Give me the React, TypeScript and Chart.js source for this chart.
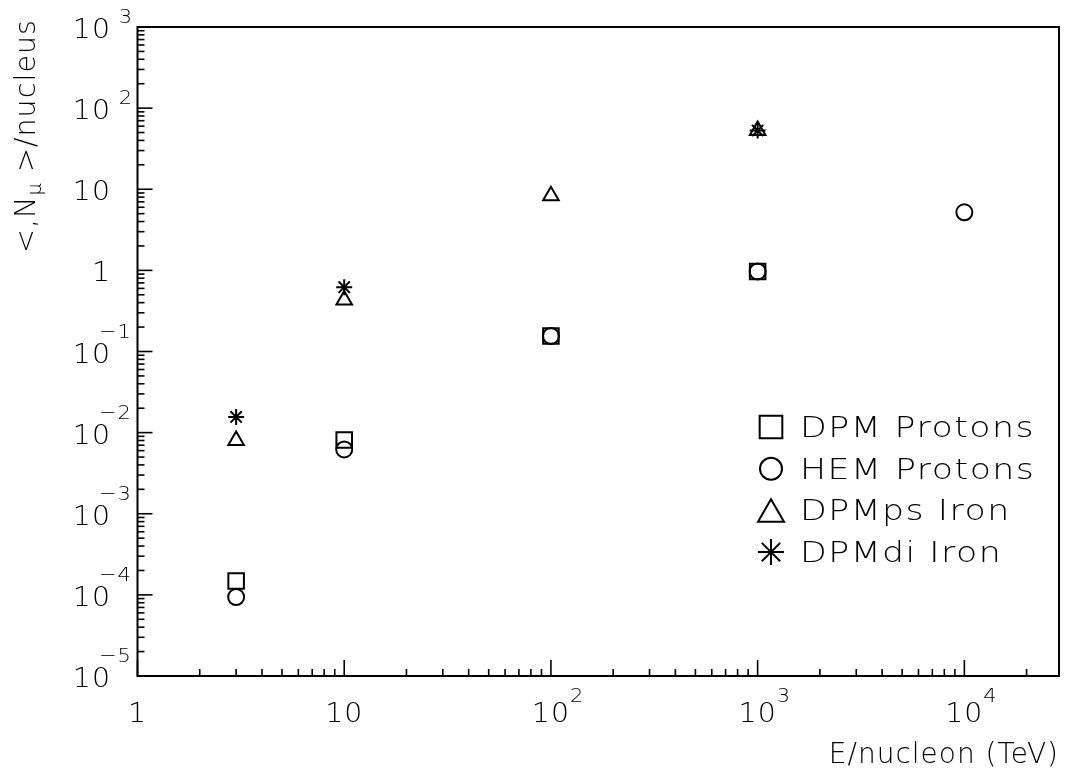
import React, { useEffect, useRef } from "react";
import { Chart, registerables } from "chart.js";
import { drawPoint } from "chart.js/helpers";

Chart.register(...registerables);

// ---- data ----
const energies = [3, 10, 100, 1000, 10000];
const dpmProtons = [1.48e-4, 8.1e-3, 0.155, 0.97, null];
const hemProtons = [9.4e-5, 6.2e-3, 0.155, 0.97, 5.2];
const dpmpsIron = [8.0e-3, 0.43, 8.3, 53, null];
const dpmdiIron = [1.56e-2, 0.62, null, 53, null];

const seriesNames = ["DPM Protons", "HEM Protons", "DPMps Iron", "DPMdi Iron"];
const seriesValues = [dpmProtons, hemProtons, dpmpsIron, dpmdiIron];
const seriesMarkers = ["rect", "circle", "triangle", "star"];

const xRange = [1, 2.87e4];
const yRange = [1e-5, 1e3];

const xTickValues = [1, 10, 100, 1000, 10000];
const xTickBases = ["1", "10", "10", "10", "10"];
const xTickExps = ["", "", "2", "3", "4"];

const yTickValues = [1e-5, 1e-4, 1e-3, 1e-2, 1e-1, 1, 10, 100, 1000];
const yTickBases = ["10", "10", "10", "10", "10", "1", "10", "10", "10"];
const yTickExps = ["\u22125", "\u22124", "\u22123", "\u22122", "\u22121", "", "", "2", "3"];

const xTitle = "E/nucleon (TeV)";
const yTitleParts = ["<,N", "\u03bc", " >/nucleus"];

// ---- styling ----
const FONT = "'DejaVu Sans', 'Liberation Sans', sans-serif";
const WEIGHT = "200";
const plotRadii = [11, 8, 9, 8];
const legendRadii = [16, 11, 15, 13];

function txt(
  ctx: CanvasRenderingContext2D,
  s: string,
  x: number,
  y: number,
  size: number,
  align: CanvasTextAlign,
  sx = 1,
  spacing = 0
) {
  ctx.save();
  ctx.font = `${WEIGHT} ${size}px ${FONT}`;
  (ctx as any).letterSpacing = `${spacing}px`;
  ctx.textAlign = align;
  ctx.textBaseline = "alphabetic";
  ctx.translate(x, y);
  ctx.scale(sx, 1);
  ctx.fillText(s, 0, 0);
  ctx.restore();
}

const pawPlugin = {
  id: "pawAxes",
  afterDraw(chart: any) {
    const ctx: CanvasRenderingContext2D = chart.ctx;
    const { left, right, top, bottom } = chart.chartArea;
    const xs = chart.scales.x;
    const ys = chart.scales.y;
    ctx.save();
    ctx.strokeStyle = "#000";
    ctx.fillStyle = "#000";

    // frame
    ctx.lineWidth = 2;
    ctx.strokeRect(left, top, right - left, bottom - top);

    // x ticks (inward, bottom axis)
    ctx.lineWidth = 1.6;
    for (let e = 0; e <= 4; e++) {
      for (let m = 1; m <= 9; m++) {
        const v = m * Math.pow(10, e);
        if (v < xRange[0] || v > xRange[1]) continue;
        const px = xs.getPixelForValue(v);
        const len = m === 1 ? 16 : 7;
        ctx.beginPath();
        ctx.moveTo(px, bottom);
        ctx.lineTo(px, bottom - len);
        ctx.stroke();
      }
    }
    // y ticks (inward, left axis)
    for (let e = -5; e <= 3; e++) {
      for (let m = 1; m <= 9; m++) {
        const v = m * Math.pow(10, e);
        if (v < yRange[0] * 0.999 || v > yRange[1] * 1.001) continue;
        const py = ys.getPixelForValue(v);
        const len = m === 1 ? 15 : 7;
        ctx.beginPath();
        ctx.moveTo(left, py);
        ctx.lineTo(left + len, py);
        ctx.stroke();
      }
    }

    // x tick labels
    xTickValues.forEach((v, i) => {
      const px = xs.getPixelForValue(v);
      txt(ctx, xTickBases[i], px, bottom + 46, 27, "center", 1.05, 1);
      if (xTickExps[i]) txt(ctx, xTickExps[i], px + 19, bottom + 26, 20, "left", 1.05);
    });
    // y tick labels
    yTickValues.forEach((v, i) => {
      const py = ys.getPixelForValue(v);
      const exp = yTickExps[i];
      txt(ctx, yTickBases[i], 111, py + 11, 27, "right", 1.05, 1);
      if (exp) {
        const neg = exp.startsWith("\u2212");
        txt(ctx, exp, 132, py + (neg ? -14 : -4), 20, "right", 1.05, neg ? 1 : 0);
      }
    });

    // x title
    txt(ctx, xTitle, right, 763, 28, "right", 1.0, 1);

    // y title (rotated)
    ctx.save();
    ctx.translate(35, 253);
    ctx.rotate(-Math.PI / 2);
    ctx.textBaseline = "alphabetic";
    ctx.textAlign = "left";
    (ctx as any).letterSpacing = "1px";
    ctx.scale(1.02, 1);
    ctx.font = `${WEIGHT} 28px ${FONT}`;
    let cx = 0;
    ctx.fillText(yTitleParts[0], cx, 0);
    cx += ctx.measureText(yTitleParts[0]).width;
    ctx.font = `${WEIGHT} 19px ${FONT}`;
    ctx.fillText(yTitleParts[1], cx, 6);
    cx += ctx.measureText(yTitleParts[1]).width;
    ctx.font = `${WEIGHT} 28px ${FONT}`;
    ctx.fillText(yTitleParts[2], cx, 0);
    ctx.restore();

    // legend
    seriesNames.forEach((name, i) => {
      const cy = 427 + i * 41.7;
      ctx.save();
      ctx.strokeStyle = "#000";
      ctx.fillStyle = "rgba(0,0,0,0)";
      ctx.lineWidth = 2;
      const r = legendRadii[i];
      const off = seriesMarkers[i] === "triangle" ? r / 4 : 0;
      drawPoint(ctx, { pointStyle: seriesMarkers[i], radius: r, rotation: 0, borderWidth: 2 } as any, 771, cy + off);
      ctx.restore();
      ctx.fillStyle = "#000";
      txt(ctx, name, 800, cy + 10, 28, "left", 1.24, 1.2);
    });

    ctx.restore();
  },
};

export default function App() {
  const ref = useRef<HTMLCanvasElement | null>(null);
  useEffect(() => {
    document.body.style.margin = "0";
    const canvas = ref.current!;
    const datasets = seriesNames.map((name, i) => ({
      label: name,
      data: energies
        .map((x, j) => ({ x, y: seriesValues[i][j] }))
        .filter((p) => p.y !== null) as { x: number; y: number }[],
      pointStyle: seriesMarkers[i] as any,
      pointRadius: plotRadii[i],
      pointHoverRadius: plotRadii[i],
      pointBorderWidth: 2,
      borderColor: "#000",
      backgroundColor: "rgba(0,0,0,0)",
      showLine: false,
    }));
    const chart = new Chart(canvas, {
      type: "scatter",
      data: { datasets },
      options: {
        animation: false,
        responsive: false,
        events: [],
        layout: { padding: { left: 137.5, right: 1072 - 1063, top: 27, bottom: 780 - 676 } },
        scales: {
          x: { type: "logarithmic", min: xRange[0], max: xRange[1], display: false },
          y: { type: "logarithmic", min: yRange[0], max: yRange[1], display: false },
        },
        plugins: { legend: { display: false }, tooltip: { enabled: false } },
      },
      plugins: [pawPlugin],
    });
    return () => chart.destroy();
  }, []);
  return (
    <div style={{ position: "absolute", left: 0, top: 0, width: 1072, height: 780, background: "#fff" }}>
      <canvas ref={ref} width={1072} height={780} style={{ display: "block" }} />
    </div>
  );
}
